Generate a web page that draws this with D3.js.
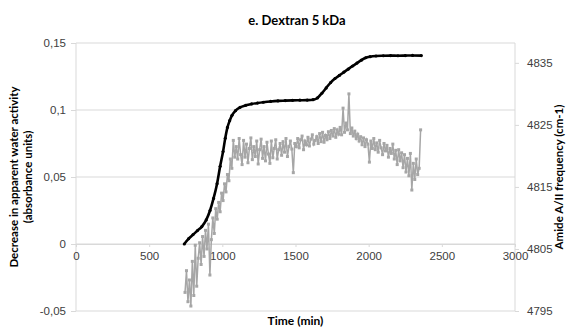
<!DOCTYPE html>
<html>
<head>
<meta charset="utf-8">
<script src="https://cdn.jsdelivr.net/npm/d3@7"></script>
<style>
  body { margin: 0; background: #fff; }
  svg { display: block; font-family: Lato, "Open Sans", sans-serif; }
  .grid line { stroke: #d9d9d9; }
  .tick text { fill: #404040; font-size: 11.5px; }
</style>
</head>
<body>
<svg width="569" height="329"></svg>
<script>
// chart values
var title = "e. Dextran 5 kDa"
var xTicks = [0, 500, 1000, 1500, 2000, 2500, 3000]
var leftTicks = [-0.05, 0, 0.05, 0.1, 0.15]
var rightTicks = [4795, 4805, 4815, 4825, 4835]

// decrease in apparent water activity (left axis)
var absTime = [740, 770, 800, 830, 860, 890, 916, 940, 964, 985, 1005, 1020, 1035, 1050, 1066, 1090, 1121, 1160, 1200, 1240, 1280, 1330, 1380, 1430, 1480, 1530, 1580, 1620, 1650, 1680, 1710, 1740, 1770, 1800, 1830, 1860, 1890, 1920, 1950, 1980, 2010, 2050, 2100, 2150, 2200, 2250, 2300, 2360]
var absValue = [0, 0.004, 0.007, 0.010, 0.013, 0.018, 0.025, 0.034, 0.045, 0.058, 0.069, 0.079, 0.087, 0.092, 0.096, 0.0995, 0.102, 0.1035, 0.1045, 0.1052, 0.1058, 0.1064, 0.1068, 0.107, 0.1072, 0.1073, 0.1074, 0.1077, 0.109, 0.1125, 0.1165, 0.1205, 0.1235, 0.1258, 0.1282, 0.1305, 0.1328, 0.135, 0.1372, 0.139, 0.1398, 0.1403, 0.1405, 0.1406, 0.1405, 0.1406, 0.1407, 0.1406]

// amide A/II frequency (right axis), sampled every 10 min from 745
var amideStart = 745, amideStep = 10
var amideValue = [
  4798, 4801.5, 4796.5, 4800, 4795.8, 4803,
  4797.5, 4805.6, 4799, 4803.5, 4806, 4802.5,
  4807, 4803.8, 4808, 4805, 4809, 4800.8,
  4806.5, 4810, 4807.5, 4811.5, 4809.8, 4812.5,
  4811, 4814, 4812.8, 4815.5, 4814.2, 4817,
  4816, 4819.5, 4818, 4822.5, 4819.8, 4821.5,
  4819.5, 4822.8, 4820.2, 4818.6, 4822.5, 4819.8,
  4821.9, 4818.9, 4821.2, 4822.9, 4819.4, 4821.5,
  4819.9, 4822.4, 4818.7, 4821, 4822.7, 4819.6,
  4821.5, 4819.2, 4822.2, 4820.3, 4818.8, 4822.4,
  4819.7, 4821.2, 4822.6, 4819.5, 4821, 4822,
  4820.1, 4822.3, 4820.6, 4822.8, 4819.9, 4821.5,
  4822.4, 4821.1, 4817.3, 4822, 4821.5, 4822.8,
  4821.3, 4822.6, 4823.2, 4821, 4822.4, 4821.8,
  4823, 4821.6, 4822.7, 4823.4, 4821.9, 4822.5,
  4823.1, 4822, 4823.6, 4822.3, 4823.8, 4822.2,
  4823.3, 4822.6, 4823.9, 4822.8, 4824.1, 4823.2,
  4824.4, 4823, 4824.2, 4823.5, 4824.6, 4823.4,
  4827.7, 4823.8, 4825.3, 4824.2, 4830, 4823.6,
  4824.5, 4823.2, 4824, 4822.8, 4823.5, 4822.4,
  4823.1, 4821.8, 4822.9, 4821.5, 4822.6, 4821.9,
  4819, 4822.4, 4821.2, 4822.8, 4821, 4822.1,
  4820.6, 4822.5, 4821.3, 4820.2, 4822, 4820.8,
  4821.7, 4819.8, 4821.2, 4820.4, 4821.9, 4819.5,
  4820.9, 4818.6, 4821, 4819.2, 4820.5, 4818.1,
  4820.2, 4817.4, 4819.6, 4816.8, 4820.4, 4814.5,
  4818.8, 4816.2, 4819.5, 4817, 4818,
  4824.2
]

var svg = d3.select("svg"),
    margin = {top: 43, right: 54, bottom: 18, left: 76},
    width = +svg.attr("width") - margin.left - margin.right,
    height = +svg.attr("height") - margin.top - margin.bottom,
    g = svg.append("g").attr("transform", "translate(" + margin.left + "," + margin.top + ")")

var x = d3.scaleLinear().domain([0, 3000]).range([0, width])
var y = d3.scaleLinear().domain([-0.05, 0.15]).range([height, 0])
var y2 = d3.scaleLinear().domain([4795, 4838.2]).range([height, 0])

var fmt = function(d) { return String(d).replace(".", ",") }

// gridlines
g.append("g").attr("class", "grid")
  .selectAll("line").data(leftTicks).join("line")
  .attr("x1", 0).attr("x2", width)
  .attr("y1", function(d) { return y(d) }).attr("y2", function(d) { return y(d) })

// plot frame sides
g.append("line").attr("x1", 0).attr("x2", 0).attr("y1", 0).attr("y2", height).attr("stroke", "#d9d9d9")
g.append("line").attr("x1", width).attr("x2", width).attr("y1", 0).attr("y2", height).attr("stroke", "#d9d9d9")

var left = g.append("g").call(d3.axisLeft(y).tickValues(leftTicks).tickFormat(fmt).tickSize(5).tickPadding(5))
left.select(".domain").remove()
left.selectAll(".tick line").attr("stroke", "#d9d9d9")

var right = g.append("g").attr("transform", "translate(" + width + ",0)")
  .call(d3.axisRight(y2).tickValues(rightTicks).tickFormat(d3.format("d")).tickSize(4).tickPadding(8))
right.select(".domain").remove()
right.selectAll(".tick line").attr("stroke", "#d9d9d9")

var bottom = g.append("g").attr("transform", "translate(0," + y(0) + ")")
  .call(d3.axisBottom(x).tickValues(xTicks).tickFormat(d3.format("d")).tickSize(3).tickPadding(5))
bottom.select(".domain").attr("stroke", "#d9d9d9")
bottom.selectAll(".tick line").attr("stroke", "#d9d9d9")

// amide series
var amide = amideValue.map(function(v, i) { return [amideStart + i * amideStep, v] })
var line2 = d3.line().x(function(d) { return x(d[0]) }).y(function(d) { return y2(d[1]) })
g.append("path").attr("d", line2(amide))
  .attr("fill", "none").attr("stroke", "#a6a6a6").attr("stroke-width", 1.5)
g.append("g").selectAll("rect").data(amide).join("rect")
  .attr("x", function(d) { return x(d[0]) - 1.5 }).attr("y", function(d) { return y2(d[1]) - 1.5 })
  .attr("width", 3).attr("height", 3).attr("fill", "#a6a6a6")

// absorbance series
var abs = absTime.map(function(t, i) { return [t, absValue[i]] })
var line1 = d3.line().x(function(d) { return x(d[0]) }).y(function(d) { return y(d[1]) }).curve(d3.curveMonotoneX)
g.append("path").attr("d", line1(abs))
  .attr("fill", "none").attr("stroke", "#000").attr("stroke-width", 2.6)
g.append("g").selectAll("circle").data(abs).join("circle")
  .attr("cx", function(d) { return x(d[0]) }).attr("cy", function(d) { return y(d[1]) })
  .attr("r", 1.6).attr("fill", "#000")

// titles
svg.append("text").attr("x", 297).attr("y", 25).attr("text-anchor", "middle")
  .style("font-size", "13px").style("font-weight", "bold").text(title)
svg.append("text").attr("x", margin.left + width / 2).attr("y", 325).attr("text-anchor", "middle")
  .style("font-size", "12px").style("font-weight", "bold").text("Time (min)")
var ly = margin.top + height / 2
svg.append("text").attr("transform", "translate(18," + ly + ") rotate(-90)").attr("text-anchor", "middle")
  .style("font-size", "11.5px").style("font-weight", "bold").text("Decrease in apparent water activity")
svg.append("text").attr("transform", "translate(32," + ly + ") rotate(-90)").attr("text-anchor", "middle")
  .style("font-size", "11.5px").style("font-weight", "bold").text("(absorbance units)")
svg.append("text").attr("transform", "translate(563," + ly + ") rotate(-90)").attr("text-anchor", "middle")
  .style("font-size", "11.5px").style("font-weight", "bold").text("Amide A/II frequency (cm-1)")
</script>
</body>
</html>
